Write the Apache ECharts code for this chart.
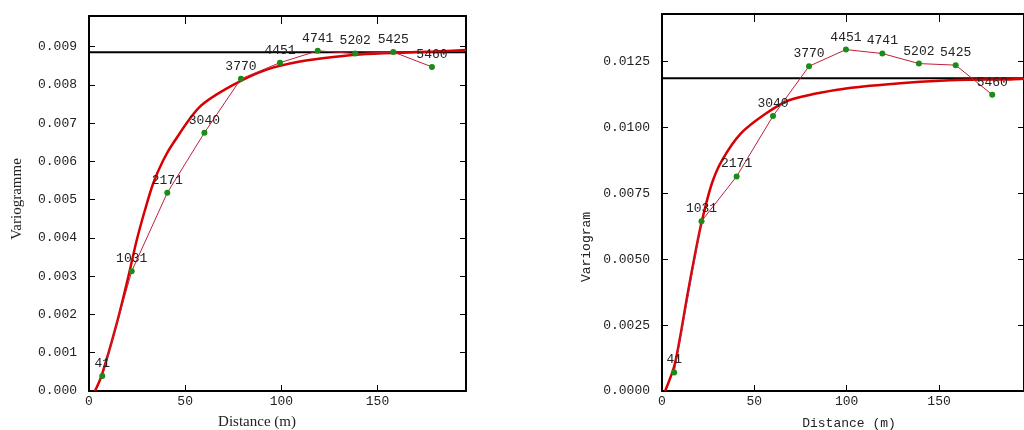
<!DOCTYPE html>
<html>
<head>
<meta charset="utf-8">
<script src="https://cdn.jsdelivr.net/npm/echarts@6/dist/echarts.min.js"></script>
<style>html,body{margin:0;padding:0;background:#fff}#c{width:1024px;height:430px}</style>
</head>
<body>
<div id="c"></div>
<script>
// ---- data ----
const pairCounts = ['41','1031','2171','3040','3770','4451','4741','5202','5425','5460'];
const lagsLeft   = [6.9, 22.2, 40.7, 60.0, 79.0, 99.3, 118.9, 138.4, 158.2, 178.3];
const gammaLeft  = [0.00039, 0.00313, 0.00518, 0.00675, 0.00816, 0.00858, 0.00889, 0.00882, 0.00886, 0.00847];
const lagsRight  = [6.6, 21.4, 40.4, 60.1, 79.6, 99.6, 119.3, 139.1, 159.0, 178.8];
const gammaRight = [0.0007, 0.00644, 0.00814, 0.01043, 0.01232, 0.01295, 0.0128, 0.01242, 0.01236, 0.01124];

const modelLeftX  = [3.1, 6.6, 14.4, 20.4, 24.8, 29.1, 33.4, 38.6, 43.8, 57.7, 75, 92.4, 109.7, 127, 144.3, 179, 196];
const modelLeftY  = [0, 0.00041, 0.00176, 0.00298, 0.00394, 0.00473, 0.00543, 0.00603, 0.00648, 0.00743, 0.008, 0.0084, 0.00861, 0.00873, 0.00881, 0.00887, 0.00891];
const modelRightX = [1.7, 7, 13.9, 18.3, 21.7, 27, 32.5, 42.6, 54.9, 68.8, 94.9, 121, 155.9, 189, 196];
const modelRightY = [0, 0.00104, 0.0037, 0.00534, 0.00648, 0.00787, 0.00875, 0.00976, 0.01046, 0.01103, 0.01143, 0.01163, 0.01179, 0.01182, 0.01184];

const sillLeft = 0.00885;
const sillRight = 0.01186;
const xMax = 196;

const xTitleLeft = 'Distance (m)';
const yTitleLeft = 'Variogramme';
const xTitleRight = 'Distance (m)';
const yTitleRight = 'Variogram';

// ---- chart ----
const mono = '"Liberation Mono", "DejaVu Sans Mono", monospace';
const serif = '"Liberation Serif", "DejaVu Serif", serif';
const zip = (xs, ys) => xs.map((x, i) => [x, ys[i]]);
const pts = (xs, ys) => xs.map((x, i) => ({ value: [x, ys[i]], name: pairCounts[i] }));

function xAxes(gi) {
  return [
    { gridIndex: gi, type: 'value', min: 0, max: xMax, interval: 50, position: 'bottom',
      axisLine: { show: true, onZero: false, lineStyle: { color: '#000', width: 2 } },
      axisTick: { show: true, inside: true, length: 6, lineStyle: { color: '#000', width: 1 } },
      axisLabel: { fontFamily: mono, fontSize: 13, color: '#222', margin: 4, showMaxLabel: false },
      splitLine: { show: false } },
    { gridIndex: gi, type: 'value', min: 0, max: xMax, interval: 50, position: 'top',
      axisLine: { show: true, onZero: false, lineStyle: { color: '#000', width: 2 } },
      axisTick: { show: true, inside: true, length: 8, lineStyle: { color: '#000', width: 1 } },
      axisLabel: { show: false }, splitLine: { show: false } }
  ];
}
function yAxes(gi, max, interval, digits) {
  return [
    { gridIndex: gi, type: 'value', min: 0, max: max, interval: interval, position: 'left',
      axisLine: { show: true, onZero: false, lineStyle: { color: '#000', width: 2 } },
      axisTick: { show: true, inside: true, length: 6, lineStyle: { color: '#000', width: 1 } },
      axisLabel: { fontFamily: mono, fontSize: 13, color: '#222', margin: 12, showMaxLabel: false,
                   formatter: v => v.toFixed(digits) },
      splitLine: { show: false } },
    { gridIndex: gi, type: 'value', min: 0, max: max, interval: interval, position: 'right',
      axisLine: { show: true, onZero: false, lineStyle: { color: '#000', width: 2 } },
      axisTick: { show: true, inside: true, length: 6, lineStyle: { color: '#000', width: 1 } },
      axisLabel: { show: false }, splitLine: { show: false } }
  ];
}
function seriesFor(xi, yi, mx, my, lx, ly, sill) {
  return [
    { type: 'line', xAxisIndex: xi, yAxisIndex: yi, data: [[0, sill], [xMax, sill]],
      showSymbol: false, lineStyle: { color: '#000', width: 2 }, z: 2, silent: true },
    { type: 'line', xAxisIndex: xi, yAxisIndex: yi, data: zip(mx, my), smooth: 0.3,
      showSymbol: false, lineStyle: { color: '#d80000', width: 2.5 }, z: 3 },
    { type: 'line', xAxisIndex: xi, yAxisIndex: yi, data: pts(lx, ly),
      symbol: 'circle', symbolSize: 6, itemStyle: { color: '#1a8c1a' },
      lineStyle: { color: '#c0203c', width: 1 }, z: 4,
      label: { show: true, position: 'top', distance: 3, formatter: '{b}',
               fontFamily: mono, fontSize: 13, color: '#222' } }
  ];
}

const chart = echarts.init(document.getElementById('c'), null, { renderer: 'canvas' });
chart.setOption({
  animation: false,
  backgroundColor: '#fff',
  grid: [
    { left: 89, top: 16, width: 377, height: 375, show: false },
    { left: 662, top: 14, width: 375, height: 377, show: false }
  ],
  xAxis: [...xAxes(0), ...xAxes(1)],
  yAxis: [...yAxes(0, 0.0098, 0.001, 3), ...yAxes(1, 0.0143, 0.0025, 4)],
  series: [
    ...seriesFor(0, 0, modelLeftX, modelLeftY, lagsLeft, gammaLeft, sillLeft),
    ...seriesFor(2, 2, modelRightX, modelRightY, lagsRight, gammaRight, sillRight)
  ],
  graphic: [
    { type: 'text', x: 257, y: 422, style: { text: xTitleLeft, fontFamily: serif, fontSize: 15, fill: '#222', align: 'center', verticalAlign: 'middle' } },
    { type: 'text', x: 17, y: 199, rotation: Math.PI / 2, style: { text: yTitleLeft, fontFamily: serif, fontSize: 15, fill: '#222', align: 'center', verticalAlign: 'middle' } },
    { type: 'text', x: 849, y: 424, style: { text: xTitleRight, fontFamily: mono, fontSize: 13, fill: '#222', align: 'center', verticalAlign: 'middle' } },
    { type: 'text', x: 587, y: 247, rotation: Math.PI / 2, style: { text: yTitleRight, fontFamily: mono, fontSize: 13, fill: '#222', align: 'center', verticalAlign: 'middle' } }
  ]
});
</script>
</body>
</html>
